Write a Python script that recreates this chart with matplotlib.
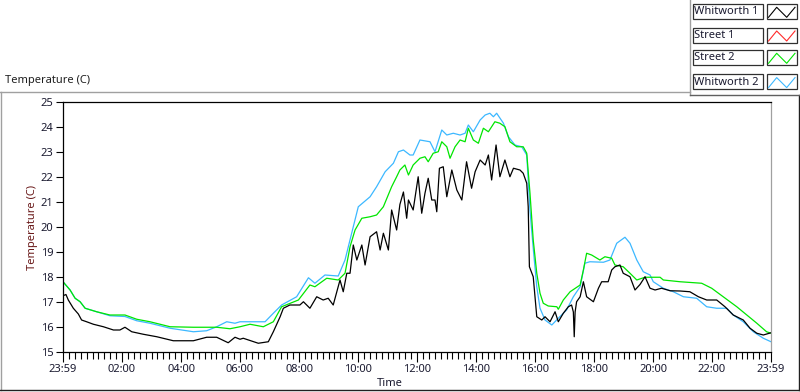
import numpy as np
import matplotlib
matplotlib.use("Agg")
import matplotlib.pyplot as plt
from matplotlib.lines import Line2D
from matplotlib.patches import Rectangle
from matplotlib.ticker import MultipleLocator, FixedLocator, FixedFormatter

plt.rcParams['font.family'] = ['Noto Sans', 'DejaVu Sans']

W, H = 800, 392

# hours since the 23:59 start of the log
whit1_t = [0.00, 0.10, 0.18, 0.35, 0.52, 0.63, 0.80, 1.03, 1.37, 1.71, 1.93, 2.10, 2.33, 2.72,
           3.18, 3.74, 4.42, 4.87, 5.21, 5.60, 5.83, 6.00, 6.11, 6.62, 6.96, 7.13, 7.36, 7.47,
           7.69, 8.03, 8.15, 8.37, 8.60, 8.82, 8.99, 9.16, 9.28, 9.39, 9.50, 9.62, 9.73, 9.84,
           9.96, 10.13, 10.24, 10.41, 10.63, 10.75, 10.86, 11.03, 11.14, 11.31, 11.42, 11.54,
           11.65, 11.71, 11.87, 12.04, 12.16, 12.27, 12.38, 12.50, 12.61, 12.67, 12.76, 12.89,
           13.01, 13.18, 13.35, 13.52, 13.68, 13.85, 13.97, 14.14, 14.31, 14.42, 14.53, 14.68,
           14.81, 14.98, 15.15, 15.27, 15.49, 15.60, 15.72, 15.77, 15.81, 15.94, 16.06, 16.23,
           16.34, 16.51, 16.68, 16.79, 16.96, 17.13, 17.24, 17.30, 17.33, 17.36, 17.41, 17.53,
           17.64, 17.75, 17.98, 18.15, 18.26, 18.48, 18.60, 18.71, 18.88, 18.99, 19.22, 19.39,
           19.56, 19.73, 19.90, 20.07, 20.29, 20.58, 20.92, 21.25, 21.54, 21.82, 22.16, 22.44,
           22.72, 23.06, 23.29, 23.52, 23.74, 24.00]
whit1_v = [17.25, 17.30, 17.08, 16.75, 16.52, 16.28, 16.21, 16.11, 16.01, 15.88, 15.88, 15.99, 15.81, 15.71,
           15.61, 15.45, 15.45, 15.59, 15.59, 15.37, 15.59, 15.51, 15.55, 15.35, 15.41, 15.81, 16.41, 16.75,
           16.88, 16.88, 17.01, 16.75, 17.21, 17.08, 17.15, 16.88, 17.41, 17.88, 17.41, 18.15, 18.15, 19.28,
           18.68, 19.28, 18.48, 19.61, 19.81, 19.08, 19.75, 19.08, 20.68, 19.88, 20.90, 21.40,
           20.35, 21.08, 20.68, 22.01, 20.55, 21.35, 21.95, 21.08, 21.08, 20.61, 22.35, 22.41,
           21.21, 22.28, 21.48, 21.08, 22.61, 21.55, 22.21, 22.68, 22.48, 22.88, 21.88, 23.28,
           22.01, 22.68, 22.01, 22.35, 22.28, 22.15, 21.75, 20.81, 18.41, 18.01, 16.41, 16.28,
           16.41, 16.21, 16.61, 16.21, 16.55, 16.81, 16.88, 16.60, 15.61, 16.60, 17.01, 17.21,
           17.81, 17.21, 17.01, 17.55, 17.81, 17.81, 18.28, 18.41, 18.48, 18.15, 18.01, 17.48,
           17.70, 18.01, 17.55, 17.48, 17.55, 17.45, 17.44, 17.41, 17.21, 17.08, 17.08, 16.81,
           16.48, 16.28, 15.95, 15.75, 15.68, 15.77]

street1_t = []
street1_v = []

street2_t = [0.00, 0.24, 0.41, 0.58, 0.75, 1.14, 1.59, 2.10, 2.50, 2.95, 3.63, 4.42, 5.21, 5.66,
             6.00, 6.34, 6.79, 7.13, 7.41, 7.98, 8.37, 8.54, 8.94, 9.33, 9.56, 9.73, 9.90, 10.13,
             10.41, 10.63, 10.86, 11.14, 11.31, 11.42, 11.59, 11.71, 11.87, 12.10, 12.27, 12.38,
             12.55, 12.72, 12.84, 13.01, 13.12, 13.29, 13.46, 13.63, 13.74, 13.91, 14.08, 14.25,
             14.42, 14.64, 14.81, 14.98, 15.15, 15.38, 15.60, 15.72, 15.83, 15.94, 16.06, 16.17,
             16.28, 16.45, 16.74, 16.79, 16.96, 17.19, 17.53, 17.64, 17.75, 17.92, 18.20, 18.37,
             18.60, 18.71, 18.99, 19.22, 19.45, 19.73, 20.24, 20.35, 20.92, 21.65, 21.99, 22.38,
             22.84, 23.18, 23.52, 23.85, 24.00]
street2_v = [17.81, 17.48, 17.15, 17.01, 16.75, 16.61, 16.48, 16.48, 16.31, 16.21, 16.01, 15.99, 15.99, 15.93,
             16.01, 16.11, 16.01, 16.21, 16.81, 17.08, 17.68, 17.61, 17.95, 17.88, 18.15, 19.21, 19.88, 20.35,
             20.41, 20.48, 20.81, 21.61, 22.01, 22.28, 22.48, 22.08, 22.48, 22.75, 22.81, 22.61,
             22.95, 23.01, 23.41, 23.21, 22.75, 23.21, 23.48, 23.41, 23.95, 23.48, 23.35, 23.95,
             23.81, 24.21, 24.15, 24.01, 23.41, 23.21, 23.21, 22.95, 21.35, 19.48, 18.15, 17.35,
             16.95, 16.84, 16.81, 16.71, 17.08, 17.41, 17.68, 18.28, 18.95, 18.88, 18.68, 18.81,
             18.75, 18.48, 18.41, 18.15, 17.88, 17.99, 17.99, 17.88, 17.81, 17.75, 17.55, 17.21,
             16.81, 16.48, 16.15, 15.81, 15.75]

whit2_t = [0.00, 0.24, 0.41, 0.58, 0.75, 1.14, 1.59, 2.10, 2.50, 2.95, 3.63, 4.42, 4.87, 5.21,
           5.55, 5.83, 6.00, 6.34, 6.85, 7.13, 7.41, 7.92, 8.32, 8.54, 8.88, 9.33, 9.56, 9.84,
           10.01, 10.41, 10.63, 10.92, 11.20, 11.37, 11.54, 11.76, 11.87, 12.10, 12.44, 12.61,
           12.84, 13.01, 13.23, 13.46, 13.63, 13.74, 13.91, 14.14, 14.31, 14.47, 14.59, 14.70,
           14.93, 15.10, 15.32, 15.55, 15.72, 15.83, 15.94, 16.06, 16.17, 16.34, 16.57, 16.79,
           17.07, 17.30, 17.53, 17.69, 17.86, 18.32, 18.54, 18.77, 19.05, 19.22, 19.45, 19.67,
           19.90, 20.01, 20.35, 20.69, 21.03, 21.48, 21.82, 22.16, 22.50, 22.72, 23.06, 23.40,
           23.74, 24.00]
whit2_v = [17.81, 17.48, 17.15, 17.01, 16.75, 16.61, 16.45, 16.42, 16.25, 16.15, 15.95, 15.81, 15.85, 16.01,
           16.21, 16.15, 16.21, 16.21, 16.21, 16.55, 16.88, 17.21, 17.97, 17.75, 18.08, 18.04, 18.68, 20.01,
           20.81, 21.21, 21.61, 22.21, 22.55, 23.01, 23.08, 22.88, 22.88, 23.48, 23.41, 23.01,
           23.88, 23.68, 23.75, 23.68, 23.75, 24.08, 23.81, 24.28, 24.48, 24.55, 24.41, 24.55,
           24.15, 23.61, 23.28, 23.21, 22.88, 20.65, 19.15, 17.61, 16.75, 16.28, 16.08, 16.35,
           16.68, 17.21, 17.61, 18.55, 18.61, 18.59, 18.68, 19.35, 19.59, 19.35, 18.68, 18.21,
           18.08, 17.81, 17.55, 17.41, 17.21, 17.15, 16.81, 16.75, 16.75, 16.48, 16.21, 15.81,
           15.55, 15.41]

series_names = ['Whitworth 1', 'Street 1', 'Street 2', 'Whitworth 2']
series_colors = ['#000000', '#ff2a2a', '#00e600', '#3cb8ff']
series_data = [(whit1_t, whit1_v), (street1_t, street1_v),
               (street2_t, street2_v), (whit2_t, whit2_v)]

tick_hours = list(range(0, 25, 2))
tick_labels = ['23:59'] + ['%02d:00' % h for h in range(2, 24, 2)] + ['23:59']

txt_color = '#1a1a30'


def fx(x):
    return x / W


def fy(y):
    return 1 - y / H


fig = plt.figure(figsize=(W / 100, H / 100), dpi=100)
fig.patch.set_facecolor('white')

ax = fig.add_axes([fx(63), fy(352), (771 - 63) / W, (352 - 102) / H])

# draw back to front: blue, green, red, black
for i in [3, 2, 1, 0]:
    t, v = series_data[i]
    ax.plot(t, v, color=series_colors[i], lw=0.9)

ax.set_xlim(0, 24)
ax.set_ylim(15, 25)
ax.xaxis.set_major_locator(FixedLocator(tick_hours))
ax.xaxis.set_major_formatter(FixedFormatter(tick_labels))
ax.xaxis.set_minor_locator(MultipleLocator(0.2))
ax.yaxis.set_major_locator(MultipleLocator(1))

ax.tick_params(axis='x', which='major', length=7, width=0.8, pad=2,
               labelsize=8, labelcolor=txt_color, color='black')
ax.tick_params(axis='x', which='minor', length=5, width=0.8, color='black')
ax.tick_params(axis='y', which='major', length=5, width=0.8, pad=2,
               labelsize=8, labelcolor=txt_color, color='black')

for side in ['top', 'left', 'bottom']:
    ax.spines[side].set_color('black')
    ax.spines[side].set_linewidth(0.9)
ax.spines['right'].set_color('#a0a0a0')
ax.spines['right'].set_linewidth(0.9)

# axis titles
fig.text(fx(32), fy(227), 'Temperature (C)', rotation=90, ha='center', va='center',
         fontsize=8, color='#6a1a1a')
fig.text(fx(390), fy(384), 'Time', ha='center', va='center', fontsize=8, color=txt_color)
fig.text(fx(5), fy(81), 'Temperature (C)', ha='left', va='center', fontsize=8, color='#202020')

# panel frame
def fline(x0, y0, x1, y1, color, lw=1.0):
    fig.add_artist(Line2D([fx(x0), fx(x1)], [fy(y0), fy(y1)], color=color, lw=lw,
                          transform=fig.transFigure))


fline(0, 91.5, 689.5, 91.5, '#a0a0a0')
fline(1, 91.5, 1, 389.5, '#a0a0a0')
fline(0, 389.5, 799, 389.5, '#202020')
fline(798.5, 95, 798.5, 389.5, '#202020')
fline(689.5, 0, 689.5, 95, '#a0a0a0')
fline(689.5, 95, 799, 95, '#606060')

# legend
row_tops = [4, 27.7, 50, 74.3]
for name, color, top in zip(series_names, series_colors, row_tops):
    fig.add_artist(Rectangle((fx(692.5), fy(top + 15)), 70 / W, 15 / H, facecolor='white',
                             edgecolor='#303030', lw=0.9, transform=fig.transFigure))
    fig.add_artist(Rectangle((fx(767), fy(top + 15)), 29.5 / W, 15 / H, facecolor='white',
                             edgecolor='#303030', lw=0.9, transform=fig.transFigure))
    fig.text(fx(694.5), fy(top + 7.8), name, ha='left', va='center', fontsize=8, color=txt_color)
    zx = [768.5, 776.7, 786.7, 795]
    zy = [top + 13.3, top + 3.3, top + 13.3, top + 3.3]
    fig.add_artist(Line2D([fx(x) for x in zx], [fy(y) for y in zy], color=color, lw=0.8,
                          transform=fig.transFigure))

fig.savefig('out.png', dpi=100)
